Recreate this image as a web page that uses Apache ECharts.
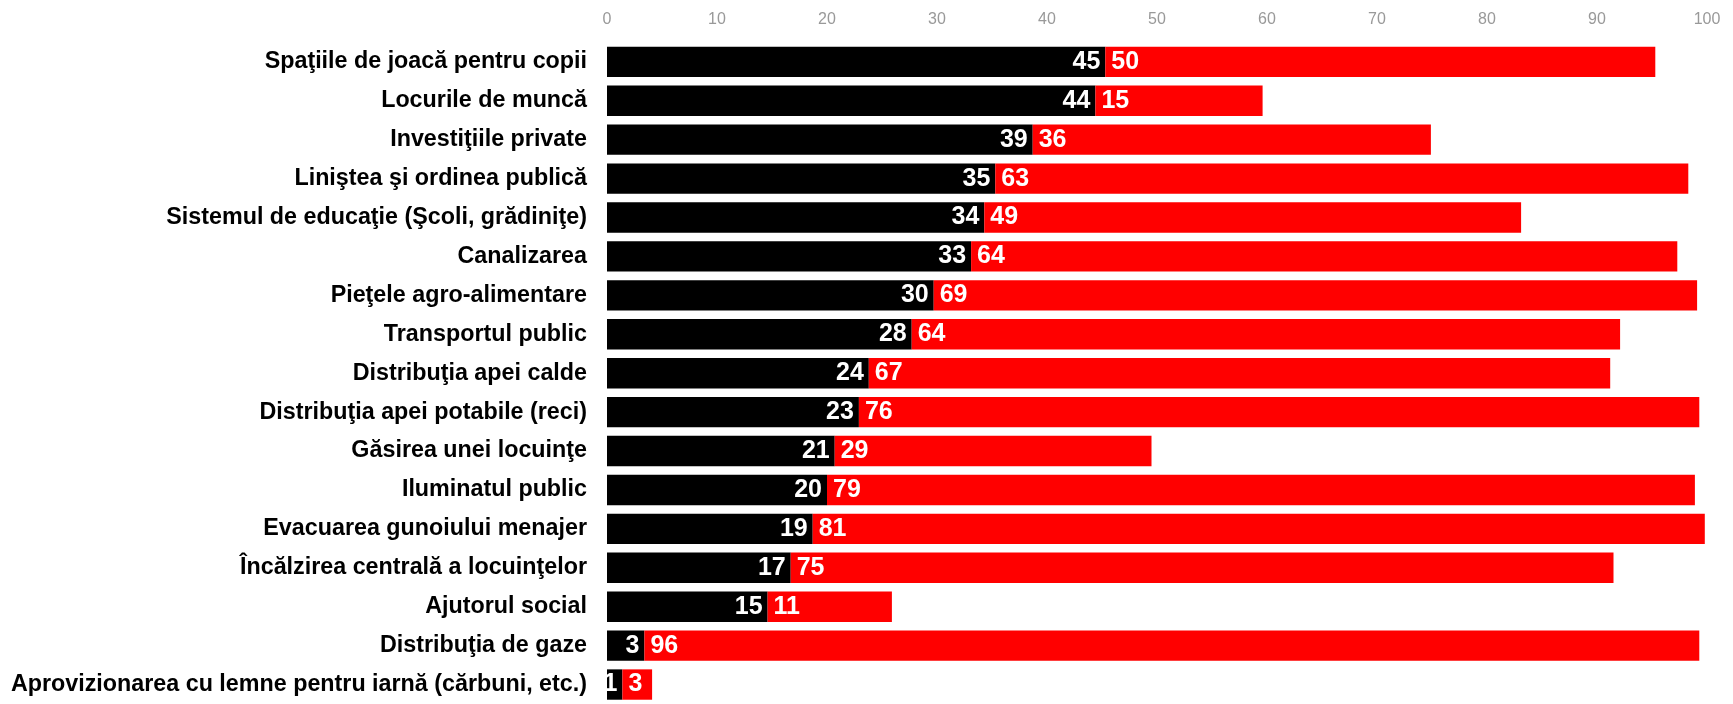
<!DOCTYPE html>
<html>
<head>
<meta charset="utf-8">
<script src="https://cdn.jsdelivr.net/npm/echarts@6/dist/echarts.min.js"></script>
<style>
html,body{margin:0;padding:0;background:#fff;}
#chart{width:1733px;height:704px;}
</style>
</head>
<body>
<div id="chart"></div>
<script>
const categories = [
  "Spaţiile de joacă pentru copii",
  "Locurile de muncă",
  "Investiţiile private",
  "Liniştea şi ordinea publică",
  "Sistemul de educaţie (Şcoli, grădiniţe)",
  "Canalizarea",
  "Pieţele agro-alimentare",
  "Transportul public",
  "Distribuţia apei calde",
  "Distribuţia apei potabile (reci)",
  "Găsirea unei locuinţe",
  "Iluminatul public",
  "Evacuarea gunoiului menajer",
  "Încălzirea centrală a locuinţelor",
  "Ajutorul social",
  "Distribuţia de gaze",
  "Aprovizionarea cu lemne pentru iarnă (cărbuni, etc.)"
];
const blackValues = [45.3, 44.4, 38.7, 35.3, 34.3, 33.1, 29.7, 27.7, 23.8, 22.9, 20.7, 20.0, 18.7, 16.7, 14.6, 3.4, 1.4];
const redValues   = [50.0, 15.2, 36.2, 63.0, 48.8, 64.2, 69.4, 64.4, 67.4, 76.4, 28.8, 78.9, 81.1, 74.8, 11.3, 95.9, 2.7];
const xTicks = [0, 10, 20, 30, 40, 50, 60, 70, 80, 90, 100];

const FONT = "'Liberation Sans', Arial, Helvetica, sans-serif";
const chart = echarts.init(document.getElementById('chart'));
const labelStyle = {
  show: true,
  color: '#fff',
  fontFamily: FONT,
  fontWeight: 'bold',
  fontSize: 25,
  formatter: p => Math.round(p.value)
};
chart.setOption({
  animation: false,
  backgroundColor: '#fff',
  grid: { left: 607, right: 26, top: 42.4, height: 666 },
  xAxis: {
    type: 'value',
    position: 'top',
    min: xTicks[0],
    max: xTicks[xTicks.length - 1],
    interval: 10,
    axisLine: { show: false },
    axisTick: { show: false },
    splitLine: { show: false },
    axisLabel: {
      color: '#999',
      fontFamily: FONT,
      fontSize: 16,
      margin: 15,
      formatter: v => xTicks.includes(v) ? String(v) : ''
    }
  },
  yAxis: {
    type: 'category',
    data: categories,
    inverse: true,
    axisLine: { show: false },
    axisTick: { show: false },
    splitLine: { show: false },
    axisLabel: {
      color: '#000',
      fontFamily: FONT,
      fontWeight: 'bold',
      fontSize: 23.3,
      margin: 20
    }
  },
  series: [
    {
      type: 'bar',
      stack: 'total',
      data: blackValues,
      barCategoryGap: '22%',
      itemStyle: { color: '#000000' },
      label: Object.assign({}, labelStyle, { position: 'insideRight', distance: 5 })
    },
    {
      type: 'bar',
      stack: 'total',
      data: redValues,
      barCategoryGap: '22%',
      itemStyle: { color: '#ff0000' },
      label: Object.assign({}, labelStyle, { position: 'insideLeft', distance: 6 })
    }
  ]
});
</script>
</body>
</html>
